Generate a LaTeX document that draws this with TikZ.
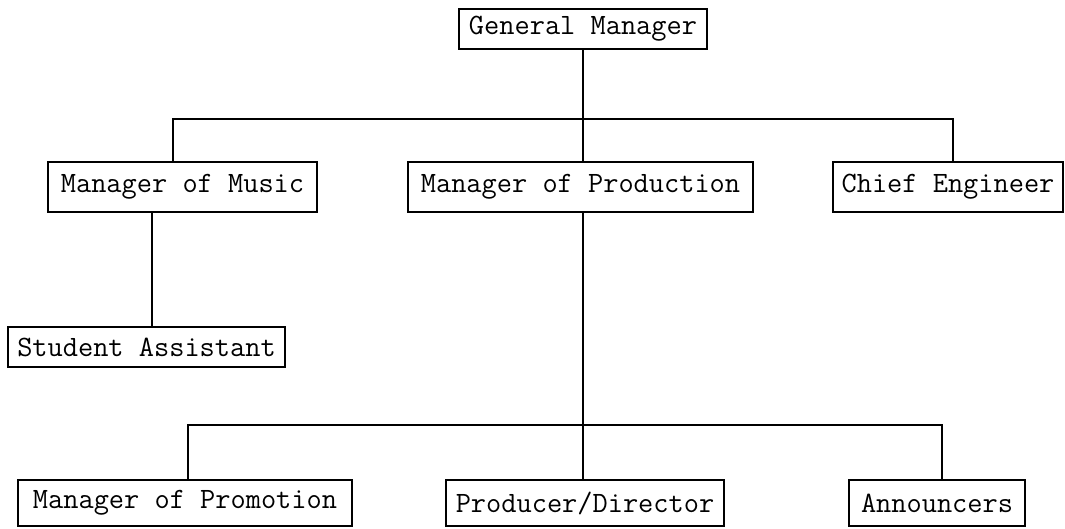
\documentclass[tikz,border=0pt]{standalone}
\usepackage{fontspec}
\begin{document}
\begin{tikzpicture}[x=0.02cm,y=-0.02cm,
	post/.style={draw,line width=0.9pt,inner sep=0pt,minimum height=1cm,
		font=\ttfamily\fontsize{16.8}{20}\selectfont},
	link/.style={line width=1.2pt}]
	\useasboundingbox (0,0) rectangle (1065,528);
	% boxes
	\node[post,minimum width=4.96cm,minimum height=0.8cm] (gm) at (583,29) {General Manager};
	\node[post,minimum width=5.38cm] (music) at (182.5,187) {Manager of Music};
	\node[post,minimum width=6.90cm] (prod) at (580.5,187) {Manager of Production};
	\node[post,minimum width=4.60cm] (chief) at (948,187) {Chief Engineer};
	\node[post,minimum width=5.54cm,minimum height=0.8cm] (student) at (146.5,347) {Student Assistant};
	\node[post,minimum width=6.68cm,minimum height=0.92cm] (promo) at (185,503) {Manager of Promotion};
	\node[post,minimum width=5.56cm,minimum height=0.92cm] (director) at (585,503) {Producer/Director};
	\node[post,minimum width=3.52cm,minimum height=0.92cm] (announce) at (937,503) {Announcers};
	% lines
	\coordinate (left1) at (173,119);
	\coordinate (right1) at (953,119);
	\coordinate (drop) at (152,270);
	\coordinate (left2) at (188,425);
	\coordinate (right2) at (942,425);
	\draw[link] (gm.south) -- (gm.south |- prod.north);
	\draw[link] (left1 |- music.north) -- (left1) -- (right1) -- (right1 |- chief.north);
	\draw[link] (drop |- music.south) -- (drop |- student.north);
	\draw[link] (gm.south |- prod.south) -- (gm.south |- director.north);
	\draw[link] (left2 |- promo.north) -- (left2) -- (right2) -- (right2 |- announce.north);
\end{tikzpicture}
\end{document}
